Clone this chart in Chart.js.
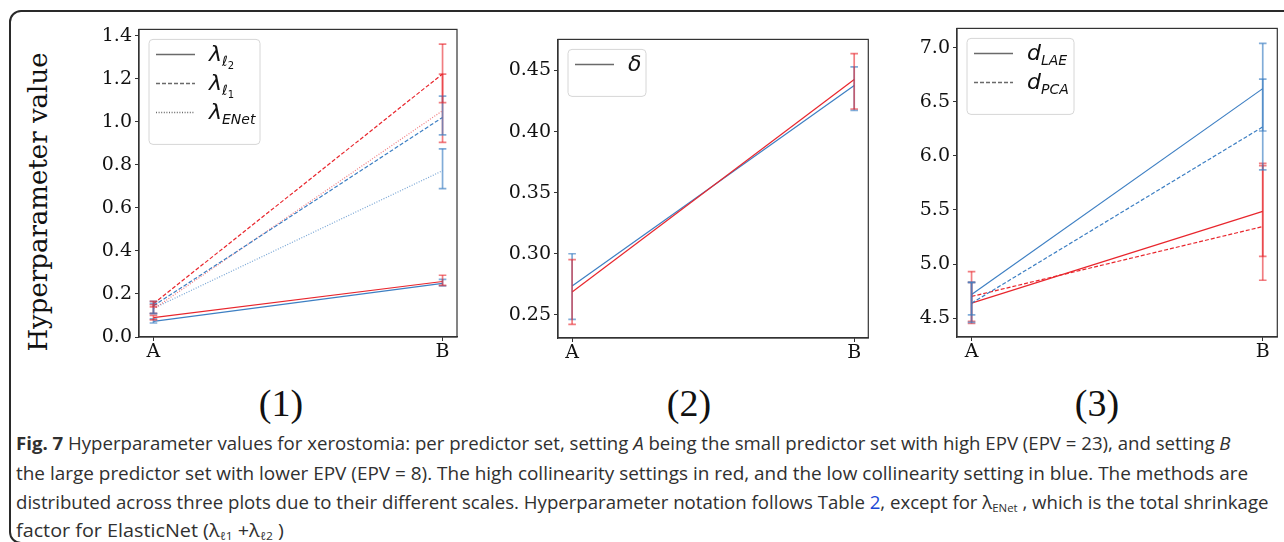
<!DOCTYPE html>
<html>
<head>
<meta charset="utf-8">
<script src="https://cdn.jsdelivr.net/npm/chart.js@4.4.1/dist/chart.umd.min.js"></script>
<style>
  body { margin: 0; width: 1284px; height: 542px; overflow: hidden; background: #fff; position: relative; }
  .frame { position: absolute; left: 9px; top: 10px; width: 1300px; height: 530px; border: 2px solid #2a2a2a; border-radius: 12px; }
  canvas { position: absolute; }
  .ytitle { position: absolute; left: 38px; top: 202px; transform: translate(-50%, -50%) rotate(-90deg); font-family: "DejaVu Serif", serif; font-size: 26px; color: #111; white-space: nowrap; }
  .panel { position: absolute; top: 403px; transform: translate(-50%, -50%); font-family: "Liberation Serif", serif; font-size: 38px; color: #111; }
  .cap { position: absolute; left: 16px; font-family: "Open Sans", sans-serif; font-size: 18px; color: #303030; white-space: nowrap; transform-origin: 0 50%; line-height: 28px; }
  .cap sub { font-size: 11px; vertical-align: -3px; }
  .link { color: #1a47d6; }
</style>
</head>
<body>
<div class="frame"></div>
<div class="ytitle">Hyperparameter value</div>
<canvas id="chart1" width="400" height="350" style="left:70px;top:15px"></canvas>
<canvas id="chart2" width="385" height="340" style="left:489px;top:25px"></canvas>
<canvas id="chart3" width="395" height="350" style="left:888px;top:14px"></canvas>
<div class="panel" style="left:281px">(1)</div>
<div class="panel" style="left:689px">(2)</div>
<div class="panel" style="left:1097px">(3)</div>
<div class="cap" style="top:429px"><b>Fig. 7</b> Hyperparameter values for xerostomia: per predictor set, setting <i>A</i> being the small predictor set with high EPV (EPV = 23), and setting <i>B</i></div>
<div class="cap" style="top:459px">the large predictor set with lower EPV (EPV = 8). The high collinearity settings in red, and the low collinearity setting in blue. The methods are</div>
<div class="cap" style="top:488px">distributed across three plots due to their different scales. Hyperparameter notation follows Table <span class="link">2</span>, except for λ<sub>ENet</sub> , which is the total shrinkage</div>
<div class="cap" style="top:516px">factor for ElasticNet (λ<sub>ℓ1</sub> +λ<sub>ℓ2</sub> )</div>
<script>
// settings A and B on the x axis
const xLabels = ['A', 'B'];

// panel 1: lambda values (high collinearity = red, low = blue)
const p1Ticks = [0.0, 0.2, 0.4, 0.6, 0.8, 1.0, 1.2, 1.4];
const l2Red = [0.090, 0.258];
const l2RedErr = [[0.080, 0.100], [0.240, 0.287]];
const l2Blue = [0.073, 0.249];
const l2BlueErr = [[0.065, 0.084], [0.238, 0.268]];
const l1Red = [0.155, 1.223];
const l1RedErr = [[0.140, 0.166], [1.090, 1.362]];
const l1Blue = [0.145, 1.021];
const l1BlueErr = [[0.110, 0.166], [0.940, 1.120]];
const enetRed = [0.130, 1.052];
const enetRedErr = [[0.110, 0.150], [0.905, 1.222]];
const enetBlue = [0.133, 0.773];
const enetBlueErr = [[0.108, 0.155], [0.690, 0.875]];

// panel 2: delta
const p2Ticks = [0.25, 0.30, 0.35, 0.40, 0.45];
const deltaRed = [0.2687, 0.4427];
const deltaRedErr = [[0.2422, 0.2951], [0.4185, 0.4639]];
const deltaBlue = [0.2736, 0.4377];
const deltaBlueErr = [[0.2462, 0.3000], [0.4174, 0.4530]];

// panel 3: latent dimensions
const p3Ticks = [4.5, 5.0, 5.5, 6.0, 6.5, 7.0];
const laeBlue = [4.719, 6.622];
const laeBlueErr = [[4.53, 4.83], [6.23, 7.04]];
const pcaBlue = [4.638, 6.268];
const pcaBlueErr = [[4.46, 4.83], [5.87, 6.71]];
const laeRed = [4.638, 5.487];
const laeRedErr = [[4.45, 4.83], [5.07, 5.93]];
const pcaRed = [4.700, 5.346];
const pcaRedErr = [[4.47, 4.93], [4.85, 5.91]];

const RED = '#e8262d';
const BLUE = '#3d7fc3';
const RED_ERR = 'rgba(232,38,45,0.6)';
const BLUE_ERR = 'rgba(61,127,195,0.65)';
const DASH = [4, 2];
const DOT = [1, 1.6];

function lineSet(vals, color, dash) {
    return {
        data: vals.map((v, i) => ({ x: i, y: v })),
        borderColor: color,
        borderWidth: 1.2,
        borderDash: dash,
        pointRadius: 0,
        fill: false
    };
}

function errSet(ranges, color) {
    return {
        data: [
            { x: 0, y: ranges[0][0] }, { x: 0, y: ranges[0][1] },
            { x: 0.5, y: null },
            { x: 1, y: ranges[1][0] }, { x: 1, y: ranges[1][1] }
        ],
        borderColor: color,
        borderWidth: 1.7,
        pointStyle: 'line',
        pointRadius: 3.8,
        pointBorderColor: color,
        pointBorderWidth: 1.7,
        fill: false
    };
}

// matplotlib-ish frame + legend drawn inside the chart area
function boxPlugin(entries, boxW) {
    return {
        id: 'box',
        afterDraw(chart) {
            const ctx = chart.ctx;
            const a = chart.chartArea;
            ctx.save();
            ctx.strokeStyle = '#333';
            ctx.lineWidth = 1.2;
            ctx.strokeRect(a.left, a.top, a.right - a.left, a.bottom - a.top);

            const bx = a.left + 10, by = a.top + 10;
            const bh = 18 + 29 * entries.length;
            ctx.beginPath();
            ctx.roundRect(bx, by, boxW, bh, 4);
            ctx.fillStyle = 'rgba(255,255,255,0.85)';
            ctx.fill();
            ctx.strokeStyle = '#d6d6d6';
            ctx.lineWidth = 1;
            ctx.stroke();

            entries.forEach((e, i) => {
                const y = by + 15 + 29 * i;
                ctx.beginPath();
                ctx.setLineDash(e.dash);
                ctx.strokeStyle = '#6a6a6a';
                ctx.lineWidth = 1.5;
                ctx.moveTo(bx + 7, y);
                ctx.lineTo(bx + 46, y);
                ctx.stroke();
                ctx.setLineDash([]);
                ctx.fillStyle = '#111';
                ctx.textBaseline = 'alphabetic';
                let x = bx + 60;
                e.parts.forEach(p => {
                    ctx.font = (p[3] ? '' : 'italic ') + p[1] + 'px "DejaVu Sans"';
                    ctx.fillText(p[0], x, y + 7 + p[2]);
                    x += ctx.measureText(p[0]).width;
                });
            });
            ctx.restore();
        }
    };
}

function makeChart(id, datasets, yMin, yMax, yTicks, digits, yWidth, pad, entries, boxW) {
    new Chart(document.getElementById(id), {
        type: 'line',
        data: { datasets: datasets },
        options: {
            responsive: false,
            animation: false,
            events: [],
            layout: { padding: pad },
            plugins: { legend: { display: false }, tooltip: { enabled: false } },
            scales: {
                x: {
                    type: 'linear',
                    min: -0.05,
                    max: 1.05,
                    afterBuildTicks: s => { s.ticks = [{ value: 0 }, { value: 1 }]; },
                    afterFit: s => { s.height = pad.xh; },
                    ticks: {
                        callback: v => xLabels[v],
                        color: '#111',
                        padding: 0,
                        maxRotation: 0,
                        font: { family: 'DejaVu Serif', size: 19 }
                    },
                    grid: { drawOnChartArea: false, tickLength: 4, color: '#333' },
                    border: { color: '#333', width: 1.2 }
                },
                y: {
                    type: 'linear',
                    min: yMin,
                    max: yMax,
                    afterBuildTicks: s => { s.ticks = yTicks.map(v => ({ value: v })); },
                    afterFit: s => { s.width = yWidth; },
                    ticks: {
                        callback: v => v.toFixed(digits),
                        color: '#111',
                        padding: 3,
                        font: { family: 'DejaVu Serif', size: 19 }
                    },
                    grid: { drawOnChartArea: false, tickLength: 4, color: '#333' },
                    border: { color: '#333', width: 1.2 }
                }
            }
        },
        plugins: [boxPlugin(entries, boxW)]
    });
}

const lam = (sub, sub2) => [['λ', 22, 0], [sub, 14, 5], [sub2, 10, 8, true]];

makeChart('chart1', [
    errSet(l2RedErr, RED_ERR), errSet(l2BlueErr, BLUE_ERR),
    errSet(l1RedErr, RED_ERR), errSet(l1BlueErr, BLUE_ERR),
    errSet(enetRedErr, RED_ERR), errSet(enetBlueErr, BLUE_ERR),
    lineSet(l2Red, RED, []), lineSet(l2Blue, BLUE, []),
    lineSet(l1Red, RED, DASH), lineSet(l1Blue, BLUE, DASH),
    lineSet(enetRed, 'rgba(232,38,45,0.6)', DOT), lineSet(enetBlue, 'rgba(61,127,195,0.7)', DOT)
], 0, 1.43, p1Ticks, 1, 69, { top: 13, right: 13, bottom: 0, left: 0, xh: 28 }, [
    { dash: [], parts: lam('ℓ', '2') },
    { dash: DASH, parts: lam('ℓ', '1') },
    { dash: DOT, parts: [['λ', 22, 0], ['ENet', 14, 5]] }
], 111);

makeChart('chart2', [
    errSet(deltaRedErr, RED_ERR), errSet(deltaBlueErr, BLUE_ERR),
    lineSet(deltaRed, RED, []), lineSet(deltaBlue, BLUE, [])
], 0.231, 0.4755, p2Ticks, 2, 69, { top: 13, right: 0, bottom: 0, left: 0, xh: 27 }, [
    { dash: [], parts: [['δ', 22, 0]] }
], 78);

makeChart('chart3', [
    errSet(laeBlueErr, BLUE_ERR), errSet(pcaBlueErr, BLUE_ERR),
    errSet(laeRedErr, RED_ERR), errSet(pcaRedErr, RED_ERR),
    lineSet(laeBlue, BLUE, []), lineSet(pcaBlue, BLUE, DASH),
    lineSet(laeRed, RED, []), lineSet(pcaRed, RED, DASH)
], 4.325, 7.179, p3Ticks, 1, 69, { top: 13, right: 0, bottom: 0, left: 0, xh: 27 }, [
    { dash: [], parts: [['d', 22, 0], ['LAE', 14, 5]] },
    { dash: DASH, parts: [['d', 22, 0], ['PCA', 14, 5]] }
], 107);

// squeeze caption lines to the widths in the figure
const capWidths = [1215, 1232, 1252, 268];
document.fonts.ready.then(() => {
    document.querySelectorAll('.cap').forEach((el, i) => {
        el.style.transform = 'scaleX(' + (capWidths[i] / el.scrollWidth) + ')';
    });
});
</script>
</body>
</html>
